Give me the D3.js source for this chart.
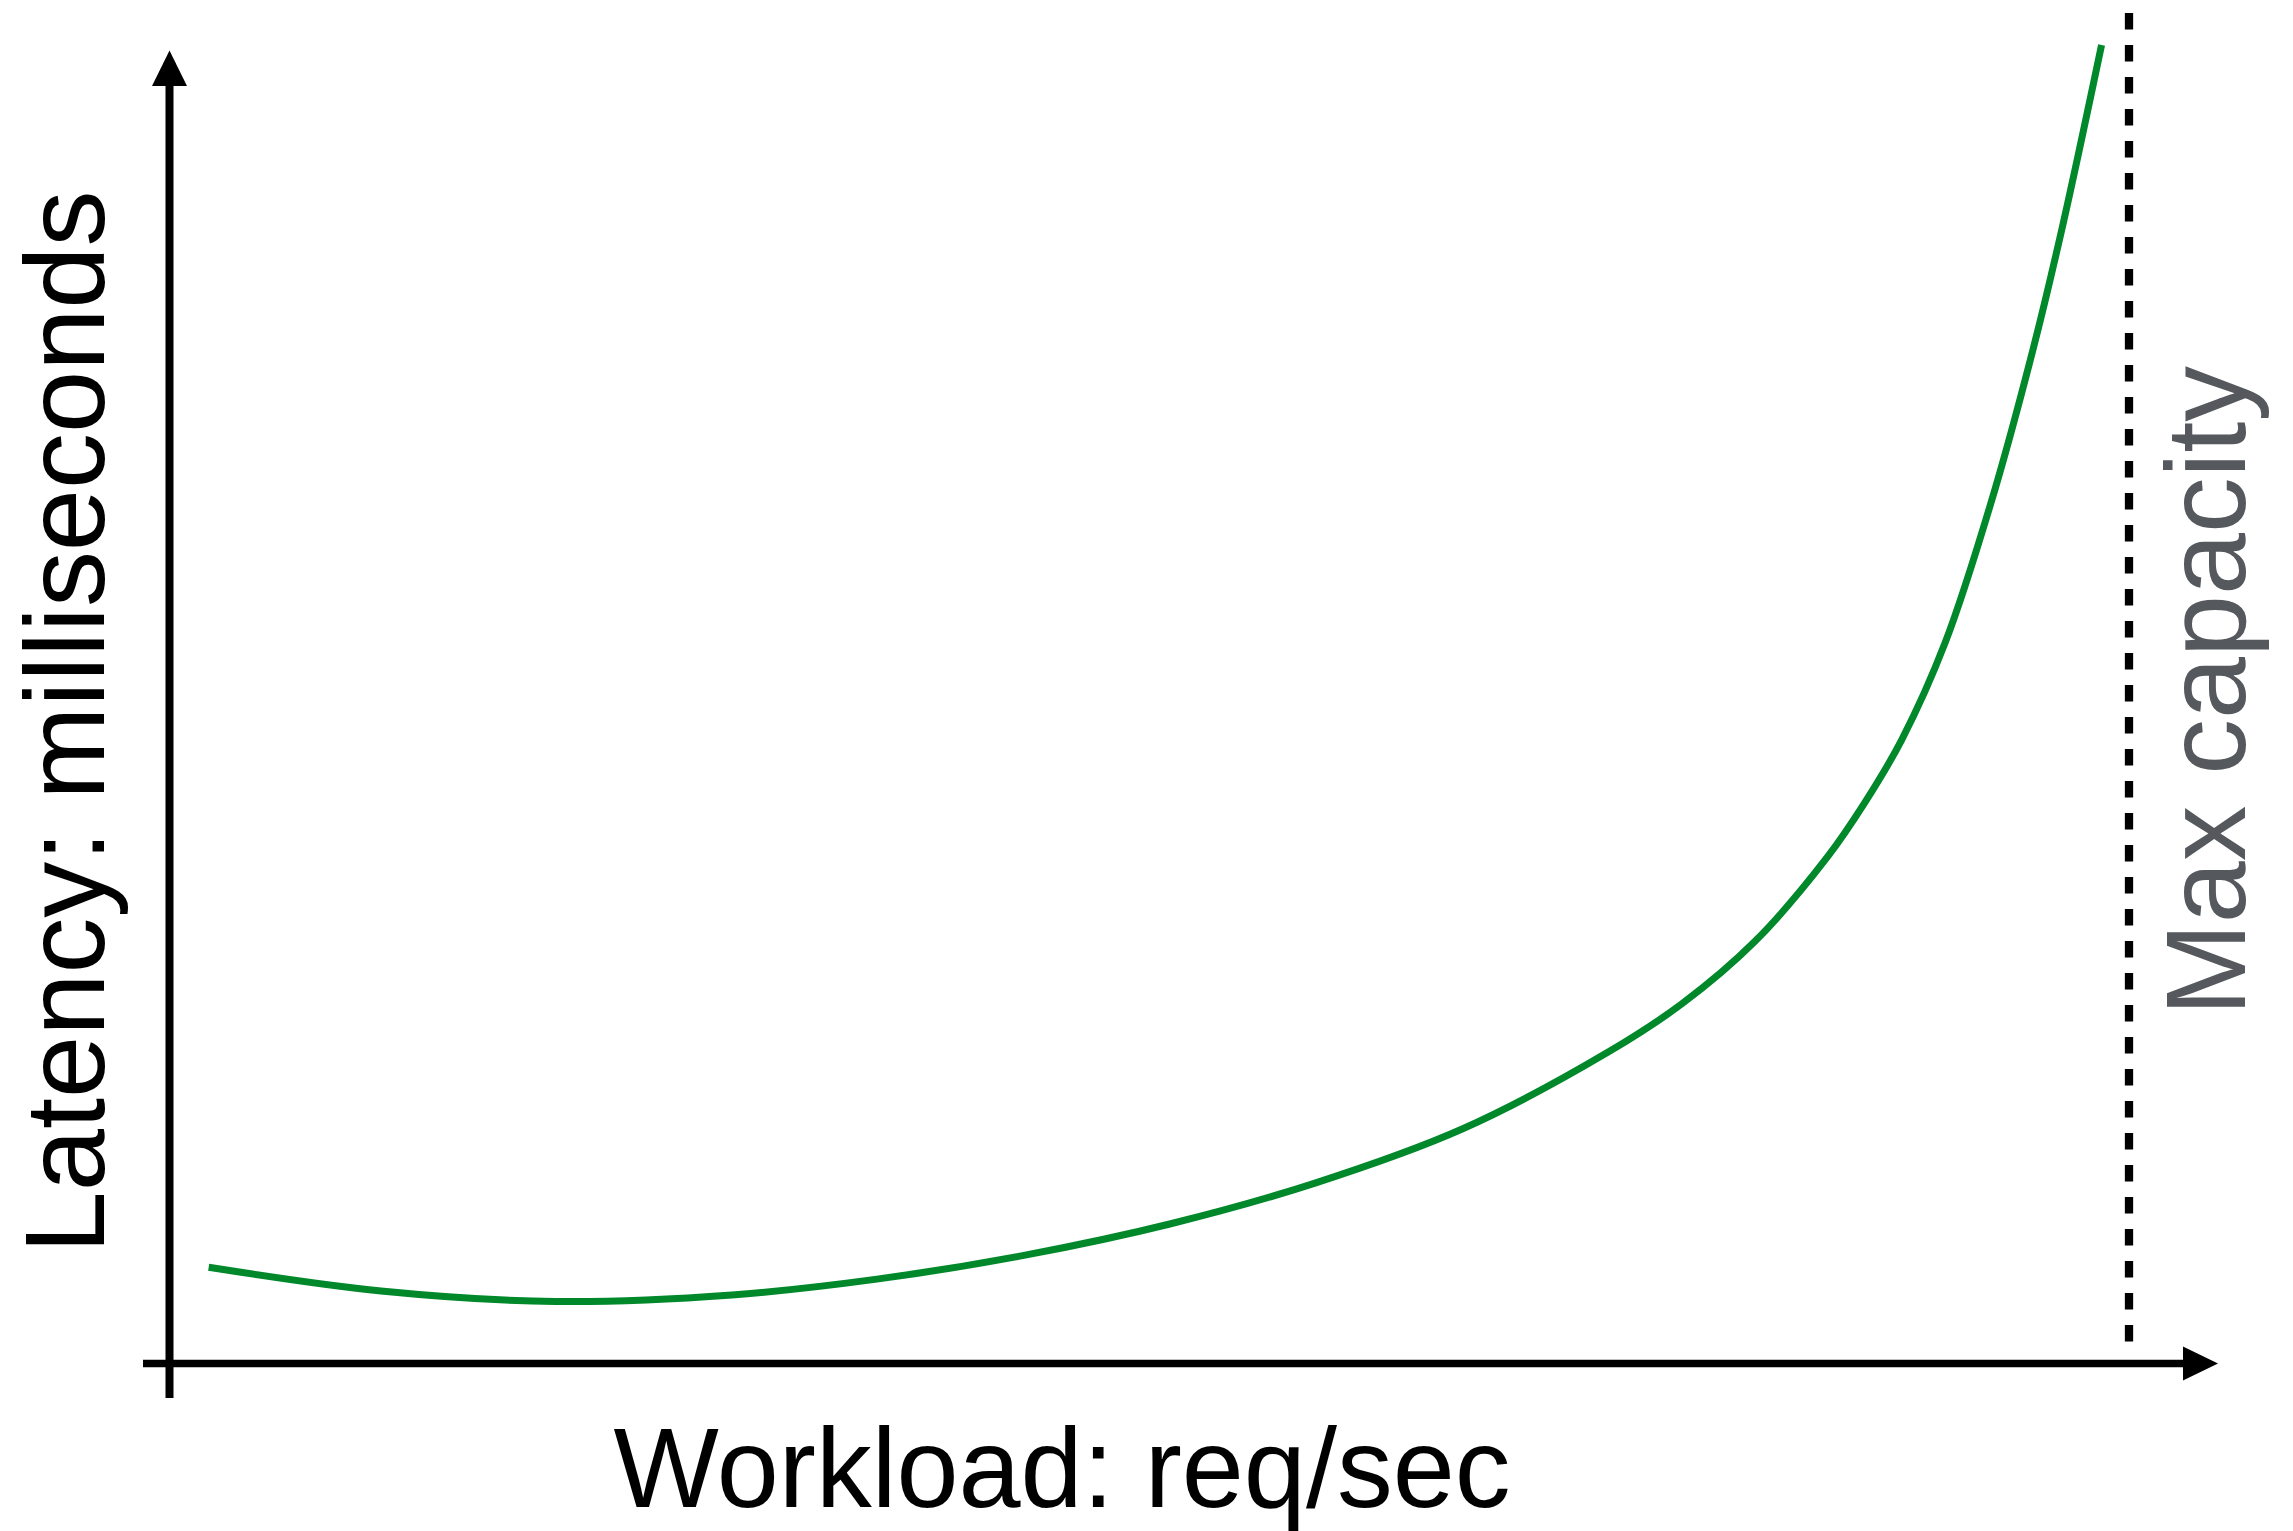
<!DOCTYPE html>
<html>
<head>
<meta charset="utf-8">
<script src="https://cdn.jsdelivr.net/npm/d3@7"></script>
<style>
  html, body { margin: 0; padding: 0; background: #fff; }
  svg { display: block; }
  text { font-family: "Liberation Sans", Helvetica, Arial, sans-serif; }
</style>
</head>
<body>
<div id="chart"></div>
<script>
// workload (% of max capacity) and latency (relative units)
const workload = [2.0, 10.8, 19.7, 28.7, 36.1, 43.6, 51.1, 58.5, 66.0, 73.4,
  77.2, 80.9, 84.6, 86.5, 88.4, 90.6, 92.9, 95.1, 96.6, 98.6];
const latency = [7.3, 5.5, 4.7, 5.2, 6.4, 8.2, 10.6, 13.7, 17.8, 23.6,
  27.3, 32.0, 38.4, 42.5, 47.3, 54.6, 65.0, 76.9, 86.2, 100.0];
const maxCapacity = 100;

const xLabel = "Workload: req/sec";
const yLabel = "Latency: milliseconds";
const capLabel = "Max capacity";

const width = 2293, height = 1531;

const svg = d3.select("#chart")
  .append("svg")
    .attr("width", width)
    .attr("height", height);

// scales
const x = d3.scaleLinear().domain([0, 100]).range([169.5, 2129]);
const y = d3.scaleLinear().domain([0, 100]).range([1363.5, 45]);

const ink = "#000";

// x axis with arrow
svg.append("line")
  .attr("x1", 143).attr("x2", 2185)
  .attr("y1", y(0)).attr("y2", y(0))
  .attr("stroke", ink).attr("stroke-width", 7.5);
svg.append("path")
  .attr("d", `M2183,${y(0) - 17} L2218,${y(0)} L2183,${y(0) + 17} Z`)
  .attr("fill", ink);

// y axis with arrow
svg.append("line")
  .attr("x1", x(0)).attr("x2", x(0))
  .attr("y1", 1398).attr("y2", 84)
  .attr("stroke", ink).attr("stroke-width", 8);
svg.append("path")
  .attr("d", `M${x(0) - 17.5},86 L${x(0)},50.5 L${x(0) + 17.5},86 Z`)
  .attr("fill", ink);

// max capacity marker
svg.append("line")
  .attr("x1", x(maxCapacity)).attr("x2", x(maxCapacity))
  .attr("y1", 13).attr("y2", 1342)
  .attr("stroke", ink).attr("stroke-width", 8.3)
  .attr("stroke-dasharray", "16.5 15.5");

// latency curve
const pts = workload.map((w, i) => [w, latency[i]]);
const line = d3.line()
  .x(d => x(d[0]))
  .y(d => y(d[1]))
  .curve(d3.curveCatmullRom.alpha(0.5));

svg.append("path")
  .datum(pts)
  .attr("d", line)
  .attr("fill", "none")
  .attr("stroke", "#00882b")
  .attr("stroke-width", 7);

// labels
svg.append("text")
  .attr("x", 1062)
  .attr("y", 1507)
  .attr("text-anchor", "middle")
  .attr("font-size", 113)
  .attr("textLength", 897)
  .attr("lengthAdjust", "spacingAndGlyphs")
  .attr("fill", ink)
  .text(xLabel);

svg.append("text")
  .attr("transform", "translate(104,722) rotate(-90)")
  .attr("text-anchor", "middle")
  .attr("font-size", 114)
  .attr("textLength", 1063)
  .attr("lengthAdjust", "spacingAndGlyphs")
  .attr("fill", ink)
  .text(yLabel);

svg.append("text")
  .attr("transform", "translate(2245,691) rotate(-90)")
  .attr("text-anchor", "middle")
  .attr("font-size", 114)
  .attr("textLength", 650)
  .attr("lengthAdjust", "spacingAndGlyphs")
  .attr("fill", "#55595e")
  .text(capLabel);
</script>
</body>
</html>
